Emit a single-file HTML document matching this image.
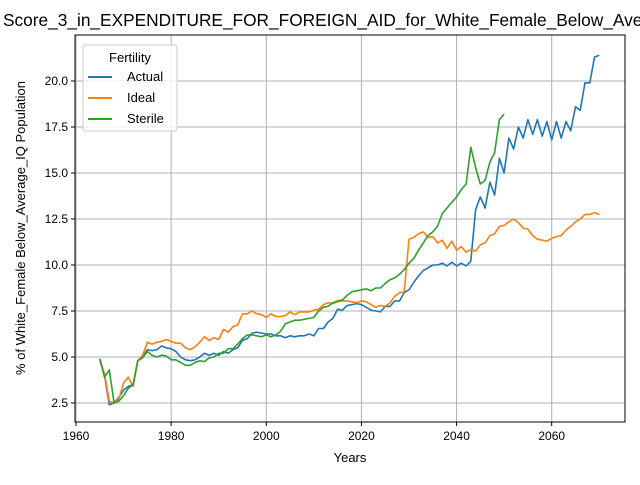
<!DOCTYPE html>
<html><head><meta charset="utf-8"><style>
body{margin:0;background:#fff}
text{font-family:"Liberation Sans","DejaVu Sans",sans-serif;fill:#000}
</style></head><body>
<svg id="chart" width="640" height="480" xmlns="http://www.w3.org/2000/svg">
<text x="3" y="26" font-size="17.3" text-anchor="start">Score_3_in_EXPENDITURE_FOR_FOREIGN_AID_for_White_Female_Below_Average_IQ</text>
<g id="grid"></g>
<g id="series"></g>
<rect x="75" y="35" width="550" height="387" fill="none" stroke="#000" stroke-width="1"/>
<g id="ticks"></g>
<text x="350" y="462" font-size="13" text-anchor="middle">Years</text>
<text transform="translate(25,228) rotate(-90)" font-size="13" text-anchor="middle">% of White_Female Below_Average_IQ Population</text>
<g>
<rect x="83" y="45" width="94" height="86" rx="3" fill="#fff" fill-opacity="0.8" stroke="#ccc"/>
<text x="130" y="62" font-size="13" text-anchor="middle">Fertility</text>
<g><line x1="88" y1="77" x2="112" y2="77" stroke="#1f77b4" stroke-width="2"/><text x="127" y="81" font-size="13">Actual</text></g>
<g><line x1="88" y1="98" x2="112" y2="98" stroke="#ff7f0e" stroke-width="2"/><text x="127" y="102" font-size="13">Ideal</text></g>
<g><line x1="88" y1="119" x2="112" y2="119" stroke="#2ca02c" stroke-width="2"/><text x="127" y="123" font-size="13">Sterile</text></g>
</g>
</svg>
<script>
const startYear = 1965;
const xTicks = [1960,1980,2000,2020,2040,2060];
const yTicks = [2.5,5.0,7.5,10.0,12.5,15.0,17.5,20.0];
const actual = [4.9,4.0,2.4,2.5,2.8,3.2,3.4,3.5,4.8,5.0,5.4,5.35,5.4,5.6,5.5,5.45,5.3,5.0,4.85,4.8,4.85,5.0,5.2,5.1,5.2,5.1,5.3,5.2,5.4,5.5,5.9,6.0,6.3,6.35,6.3,6.25,6.25,6.15,6.15,6.05,6.15,6.1,6.15,6.15,6.25,6.15,6.55,6.55,6.9,7.1,7.6,7.55,7.8,7.85,7.9,7.85,7.7,7.55,7.5,7.45,7.75,7.75,8.05,8.05,8.5,8.65,9.05,9.4,9.7,9.85,10.0,10.0,10.1,9.95,10.15,9.95,10.1,9.95,10.2,13.0,13.7,13.1,14.5,13.8,15.8,15.0,16.9,16.3,17.5,16.9,17.9,17.1,17.9,17.0,17.8,16.8,17.8,16.9,17.8,17.3,18.6,18.4,19.9,19.9,21.3,21.4];
const ideal = [4.8,4.1,2.6,2.5,2.7,3.6,3.9,3.4,4.8,5.1,5.8,5.7,5.8,5.85,5.95,5.85,5.75,5.75,5.5,5.4,5.55,5.8,6.1,5.9,6.05,5.95,6.5,6.35,6.65,6.75,7.35,7.35,7.5,7.35,7.3,7.15,7.35,7.2,7.2,7.25,7.45,7.3,7.45,7.45,7.45,7.55,7.6,7.85,7.95,7.9,8.0,8.05,8.05,8.0,7.95,8.05,8.0,7.85,7.7,7.8,7.75,7.95,8.3,8.5,8.55,11.4,11.5,11.7,11.8,11.5,11.55,11.2,11.35,10.9,11.3,10.8,11.0,10.7,10.85,10.75,11.1,11.2,11.6,11.7,12.1,12.15,12.35,12.5,12.3,12.0,11.95,11.6,11.4,11.35,11.3,11.45,11.55,11.6,11.9,12.1,12.35,12.5,12.75,12.75,12.85,12.75];
const sterile = [4.9,3.9,4.3,2.5,2.6,2.9,3.3,3.5,4.8,4.95,5.3,5.1,5.0,5.1,5.05,4.85,4.85,4.7,4.55,4.55,4.7,4.8,4.75,4.95,5.0,5.2,5.2,5.45,5.45,5.7,6.0,6.2,6.2,6.15,6.1,6.2,6.1,6.2,6.4,6.8,6.9,7.0,7.0,7.05,7.1,7.15,7.5,7.7,7.75,7.95,8.05,8.1,8.35,8.55,8.6,8.65,8.7,8.6,8.75,8.75,9.0,9.2,9.3,9.5,9.75,10.1,10.35,10.8,11.2,11.6,11.8,12.1,12.8,13.1,13.4,13.7,14.1,14.4,16.4,15.3,14.4,14.6,15.6,16.1,17.9,18.2];

const NS='http://www.w3.org/2000/svg';
function xs(yr){return 76+(yr-1960)*4.757;}
function ys(v){return 403-(v-2.5)*18.4;}
const grid=document.getElementById('grid'), ticks=document.getElementById('ticks'), ser=document.getElementById('series');
function mk(tag,attrs,parent){const e=document.createElementNS(NS,tag);for(const k in attrs)e.setAttribute(k,attrs[k]);parent.appendChild(e);return e;}
xTicks.forEach(t=>{
  const x=xs(t);
  const g=mk('line',{x1:x,x2:x,y1:35,y2:422,stroke:'#b0b0b0','stroke-width':1},grid);
  
  
  mk('line',{x1:x,x2:x,y1:422,y2:426,stroke:'#000'},ticks);
  const tx=mk('text',{x:x,y:440,'font-size':12,'text-anchor':'middle'},ticks);
  tx.textContent=t;
  
  
});
yTicks.forEach(t=>{
  const y=ys(t);
  const g=mk('line',{x1:75,x2:625,y1:y,y2:y,stroke:'#b0b0b0','stroke-width':1},grid);
  
  
  mk('line',{x1:71,x2:75,y1:y,y2:y,stroke:'#000'},ticks);
  const tx=mk('text',{x:68,y:y+4,'font-size':12,'text-anchor':'end'},ticks);
  tx.textContent=t.toFixed(1);
  
  
});
function line(data,color,name){
  const pts=data.map((v,i)=>xs(startYear+i).toFixed(1)+','+ys(v).toFixed(1)).join(' ');
  const p=mk('polyline',{points:pts,fill:'none',stroke:color,'stroke-width':1.6,'stroke-linejoin':'round'},ser);
  
  
}
line(actual,'#1f77b4','actual-line');
line(ideal,'#ff7f0e','ideal-line');
line(sterile,'#2ca02c','sterile-line');
</script>
</body></html>
